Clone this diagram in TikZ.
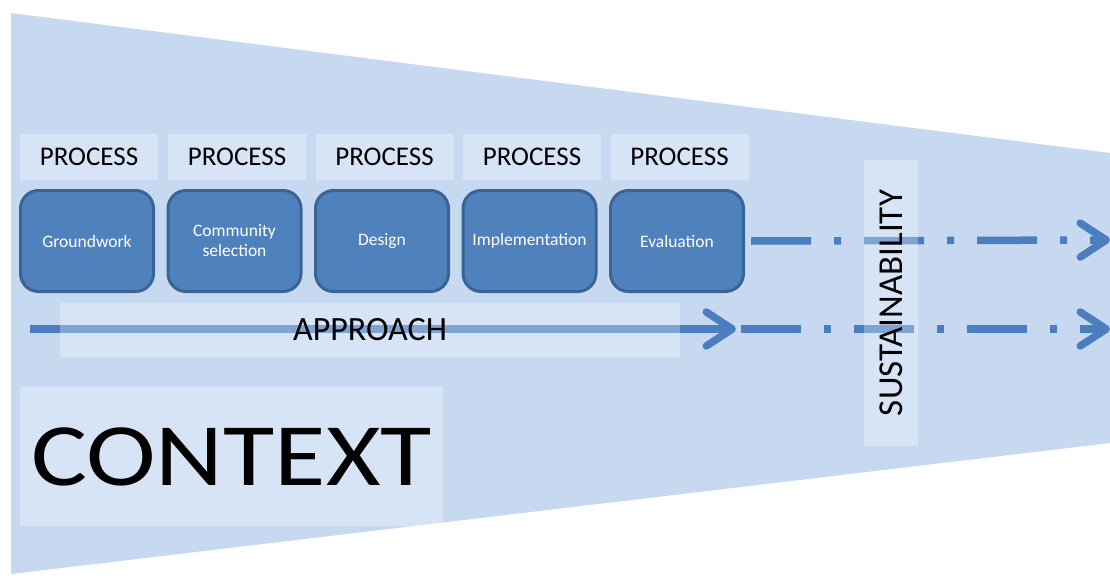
\documentclass[tikz,border=0pt]{standalone}
\usepackage{fontspec}
\setmainfont{Carlito}
\usetikzlibrary{arrows.meta}
\definecolor{bgblue}{HTML}{C6D9F1}
\definecolor{boxblue}{HTML}{4F81BD}
\definecolor{boxline}{HTML}{3B6496}
\definecolor{lineblue}{HTML}{4A7EBF}
\begin{document}
\begin{tikzpicture}[x=1pt,y=-1pt,
  overlaybox/.style={fill=white, fill opacity=0.3, text opacity=1, inner sep=0pt},
  labelbox/.style={overlaybox, minimum width=138pt, minimum height=46pt, font=\fontsize{27}{30}\selectfont},
  stage/.style={fill=boxblue, draw=boxline, line width=3pt, rounded corners=18pt,
    minimum width=133pt, minimum height=101pt, text=white, align=center,
    font=\fontsize{17.5}{20}\selectfont, inner sep=0pt},
  flow/.style={draw=lineblue, line width=7.5pt, -{Straight Barb[length=26pt,width=34pt,round]}},
  dashflow/.style={flow, dash pattern=on 60pt off 23pt on 7pt off 23pt}
]
\useasboundingbox (0,0) rectangle (1110,578);
% context field
\fill[bgblue] (11,13) -- (1110,153) -- (1110,443) -- (11,574) -- cycle;
% process labels
\node[labelbox] (p1) at (89,157) {PROCESS};
\node[labelbox] (p2) at (237,157) {PROCESS};
\node[labelbox] (p3) at (384.5,157) {PROCESS};
\node[labelbox] (p4) at (532,157) {PROCESS};
\node[labelbox] (p5) at (679.5,157) {PROCESS};
% stages
\node[stage] (s1) at (87,241) {Groundwork};
\node[stage] (s2) at (234.5,241) {Community\\selection};
\node[stage] (s3) at (382,241) {Design};
\node[stage] (s4) at (529.5,241) {Implementation};
\node[stage] (s5) at (677,241) {Evaluation};
% connectors
\coordinate (a0) at (30,329);
\coordinate (a1) at (736,329);
\coordinate (a2) at (741,329);
\coordinate (a3) at (1110,329);
\coordinate (e1) at (1110,240);
\draw[flow] (a0) -- (a1);
\draw[dashflow] (a2) -- (a3);
\draw[dashflow] ([xshift=6pt]s5.east) -- (e1);
% overlay labels
\node[overlaybox, minimum width=620pt, minimum height=54pt, font=\fontsize{34}{40}\selectfont] (ap) at (370,330) {APPROACH};
\node[overlaybox, rotate=90, minimum width=286pt, minimum height=54pt, font=\fontsize{35}{40}\selectfont] (su) at (891,303) {SUSTAINABILITY};
\node[overlaybox, minimum width=423pt, minimum height=139pt] (ctx) at (231.5,456.5) {\scalebox{1.18}[1]{\fontsize{89}{90}\selectfont CONTEXT}};
\end{tikzpicture}
\end{document}
